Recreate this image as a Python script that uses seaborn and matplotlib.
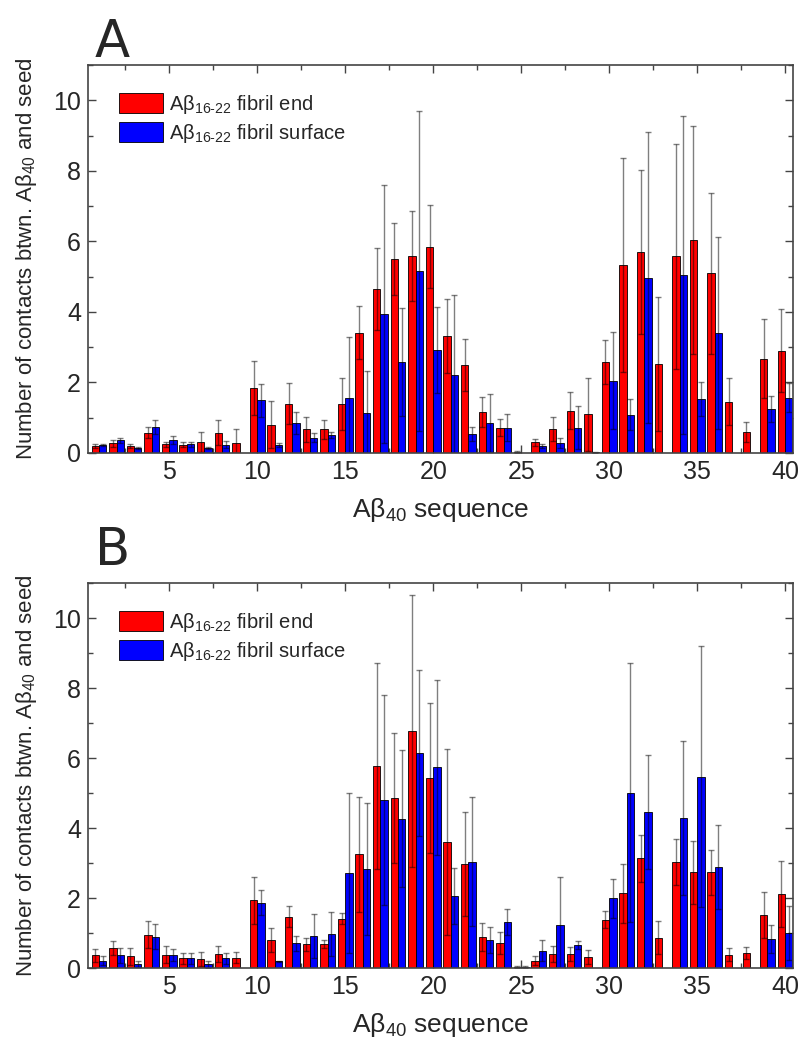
import numpy as np
import pandas as pd
import matplotlib
matplotlib.use("Agg")
import matplotlib.pyplot as plt
import seaborn as sns
from matplotlib.ticker import MultipleLocator

residues = list(range(1, 41))

# panel A
end_A = [0.20, 0.28, 0.20, 0.58, 0.25, 0.24, 0.31, 0.58, 0.29, 1.84,
         0.80, 1.40, 0.67, 0.67, 1.39, 3.41, 4.64, 5.50, 5.58, 5.85,
         3.33, 2.49, 1.17, 0.72, 0.03, 0.30, 0.67, 1.20, 1.10, 2.58,
         5.33, 5.70, 2.52, 5.58, 6.03, 5.09, 1.45, 0.60, 2.67, 2.90]
end_A_err = [0.05, 0.10, 0.06, 0.16, 0.07, 0.07, 0.29, 0.36, 0.40, 0.77,
             0.67, 0.58, 0.36, 0.26, 0.73, 0.75, 1.16, 1.03, 1.28, 1.18,
             1.05, 0.73, 0.43, 0.23, 0.02, 0.11, 0.34, 0.53, 1.03, 0.62,
             3.02, 2.32, 1.91, 3.19, 3.23, 2.27, 0.67, 0.29, 1.12, 1.18]
surf_A = [0.22, 0.36, 0.14, 0.74, 0.36, 0.25, 0.14, 0.24, 0.00, 1.49,
          0.22, 0.84, 0.43, 0.51, 1.57, 1.12, 3.94, 2.58, 5.16, 2.92,
          2.21, 0.55, 0.84, 0.72, 0.00, 0.20, 0.29, 0.72, 0.02, 2.05,
          1.08, 4.97, 0.00, 5.04, 1.53, 3.41, 0.00, 0.00, 1.26, 1.57]
surf_A_err = [0.03, 0.07, 0.03, 0.19, 0.11, 0.07, 0.02, 0.09, 0.00, 0.46,
              0.05, 0.31, 0.13, 0.09, 1.73, 1.21, 3.65, 1.54, 4.54, 1.23,
              2.28, 0.20, 0.82, 0.38, 0.00, 0.05, 0.14, 0.61, 0.02, 1.37,
              0.44, 4.13, 0.00, 4.51, 0.49, 2.72, 0.00, 0.00, 0.37, 0.42]

# panel B
end_B = [0.36, 0.57, 0.33, 0.95, 0.38, 0.28, 0.26, 0.40, 0.30, 1.93,
         0.80, 1.47, 0.68, 0.69, 1.41, 3.25, 5.77, 4.86, 6.77, 5.43,
         3.61, 2.97, 0.88, 0.71, 0.03, 0.21, 0.41, 0.40, 0.31, 1.38,
         2.14, 3.13, 0.87, 3.04, 2.73, 2.73, 0.38, 0.43, 1.52, 2.12]
end_B_err = [0.18, 0.21, 0.24, 0.38, 0.24, 0.16, 0.19, 0.22, 0.17, 0.66,
             0.35, 0.29, 0.19, 0.12, 0.16, 1.64, 2.94, 1.85, 3.88, 2.15,
             2.66, 1.49, 0.40, 0.31, 0.03, 0.12, 0.23, 0.19, 0.20, 0.24,
             0.84, 0.66, 0.47, 0.66, 0.89, 0.65, 0.19, 0.16, 0.66, 0.95]
surf_B = [0.21, 0.36, 0.12, 0.90, 0.36, 0.28, 0.11, 0.28, 0.00, 1.87,
          0.19, 0.71, 0.92, 0.97, 2.71, 2.83, 4.80, 4.27, 6.14, 5.73,
          2.06, 3.04, 0.79, 1.31, 0.03, 0.50, 1.22, 0.66, 0.00, 1.99,
          5.01, 4.46, 0.00, 4.29, 5.46, 2.90, 0.00, 0.00, 0.83, 1.00]
surf_B_err = [0.12, 0.21, 0.09, 0.35, 0.17, 0.16, 0.10, 0.16, 0.00, 0.36,
              0.02, 0.21, 0.63, 0.62, 2.29, 1.89, 3.00, 1.95, 2.37, 2.50,
              0.79, 1.85, 0.37, 0.37, 0.02, 0.30, 1.39, 0.12, 0.00, 0.55,
              3.70, 1.63, 0.00, 2.19, 3.73, 1.20, 0.00, 0.00, 0.39, 0.76]

lab_end = r"Aβ$_{16\text{-}22}$ fibril end"
lab_surf = r"Aβ$_{16\text{-}22}$ fibril surface"
colors = {lab_end: "#ff0000", lab_surf: "#0000ff"}

sns.set_style("white")
plt.rcParams["font.family"] = ["Liberation Sans", "DejaVu Sans"]
plt.rcParams["mathtext.fontset"] = "custom"
plt.rcParams["mathtext.rm"] = "Liberation Sans"
plt.rcParams["mathtext.default"] = "regular"

fig = plt.figure(figsize=(8.01, 10.44), dpi=100)
axA = fig.add_axes([88 / 801, 1 - 453 / 1044, 705 / 801, 388 / 1044])
axB = fig.add_axes([88 / 801, 1 - 968 / 1044, 705 / 801, 385 / 1044])


def panel(ax, end, end_err, surf, surf_err):
    df = pd.DataFrame({
        "residue": residues * 2,
        "contacts": end + surf,
        "err": end_err + surf_err,
        "seed": [lab_end] * 40 + [lab_surf] * 40,
    })
    sns.barplot(data=df, x="residue", y="contacts", hue="seed",
                hue_order=[lab_end, lab_surf], palette=colors,
                native_scale=True, width=0.84, errorbar=None,
                edgecolor="black", linewidth=0.6, saturation=1, ax=ax)

    # error bars at bar centres
    for cont, name in zip(ax.containers, [lab_end, lab_surf]):
        sub = df[df["seed"] == name].sort_values("residue")
        bars = sorted(cont.patches, key=lambda p: p.get_x())
        xs = np.array([p.get_x() + p.get_width() / 2 for p in bars])
        ys = sub["contacts"].to_numpy()
        es = sub["err"].to_numpy()
        keep = es > 0
        ax.errorbar(xs[keep], ys[keep], yerr=es[keep], fmt="none",
                    ecolor="black", alpha=0.5, elinewidth=1.0,
                    capsize=2.5, capthick=1.0)

    ax.set_xlim(0.38, 40.45)
    ax.set_ylim(0, 11)
    ax.set_xticks([5, 10, 15, 20, 25, 30, 35, 40])
    ax.set_xticklabels(["5", "10", "15", "20", "25", "30", "35", "40"])
    ax.set_yticks([0, 2, 4, 6, 8, 10])
    ax.set_yticklabels(["0", "2", "4", "6", "8", "10"])
    ax.xaxis.set_minor_locator(MultipleLocator(2.5))
    ax.yaxis.set_minor_locator(MultipleLocator(1))
    ax.tick_params(which="both", direction="in", bottom=True, left=True,
                   top=True, right=True, color="#444444", width=1.0,
                   labelsize=18)
    ax.tick_params(which="major", length=6, pad=5)
    ax.tick_params(which="minor", length=3.5)
    for s in ax.spines.values():
        s.set_visible(True)
        s.set_color("#444444")
        s.set_linewidth(1.2)
    ax.set_xlabel("Aβ$_{40}$ sequence", fontsize=19, labelpad=9)
    ax.set_ylabel("Number of contacts btwn. Aβ$_{40}$ and seed",
                  fontsize=16, labelpad=10)
    sns.move_legend(ax, "upper left", bbox_to_anchor=(0.018, 0.975),
                    frameon=False, title=None, fontsize=14.5,
                    handlelength=2.2, handleheight=1.1,
                    labelspacing=0.3, handletextpad=0.3)


panel(axA, end_A, end_A_err, surf_A, surf_A_err)
panel(axB, end_B, end_B_err, surf_B, surf_B_err)

fig.text(95 / 801, 1 - 57 / 1044, "A", fontsize=37,
         family=["Liberation Sans Narrow", "DejaVu Sans"], va="baseline")
fig.text(95 / 801, 1 - 565 / 1044, "B", fontsize=37,
         family=["Liberation Sans Narrow", "DejaVu Sans"], va="baseline")

fig.savefig("out.png", dpi=100)
